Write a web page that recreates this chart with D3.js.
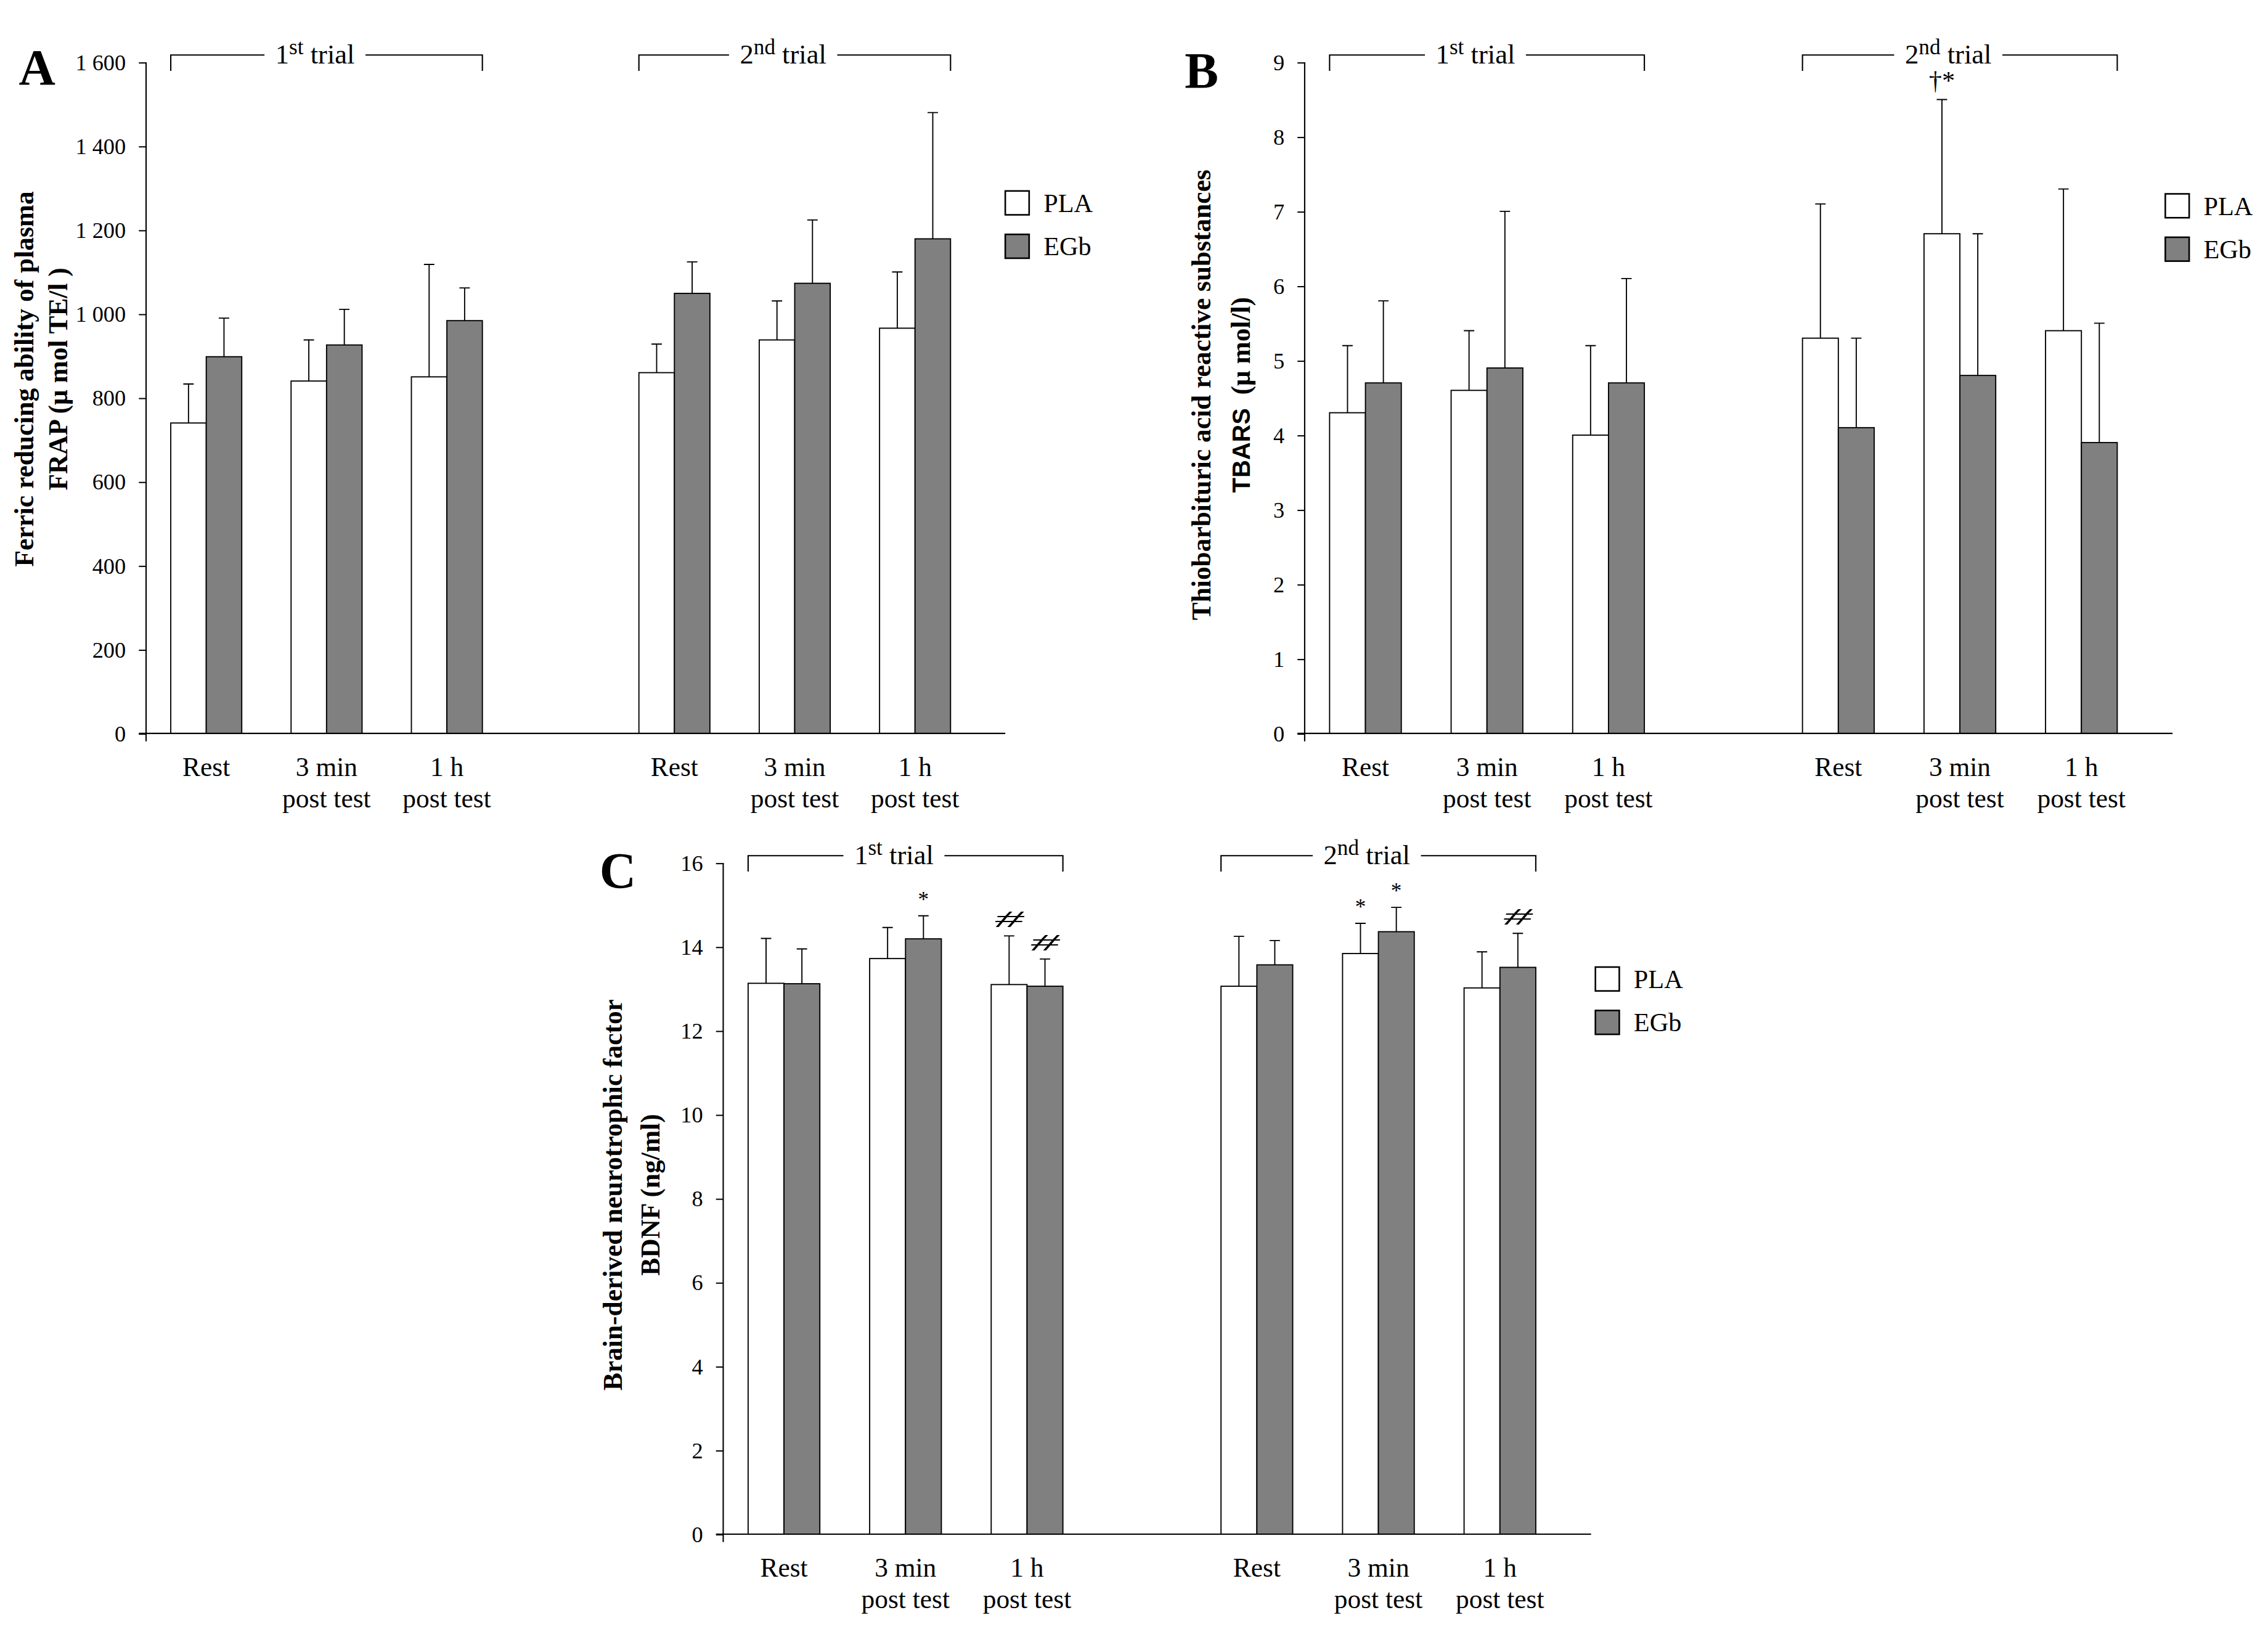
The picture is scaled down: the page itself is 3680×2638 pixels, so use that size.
<!DOCTYPE html>
<html>
<head>
<meta charset="utf-8">
<script src="https://cdn.jsdelivr.net/npm/d3@7"></script>
<style>
  html, body { margin: 0; padding: 0; background: #fff; }
</style>
</head>
<body>
<div id="chart"></div>
<script>
// --- Data ---
const trials = ['1st', '2nd'];
const timepoints = ['Rest', '3 min post test', '1 h post test'];
const timeLabels = [['Rest'], ['3 min', 'post test'], ['1 h', 'post test']];
const groups = ['PLA', 'EGb'];

// order: 1st trial Rest, 3 min, 1 h, 2nd trial Rest, 3 min, 1 h
const frapPLA = [740, 840, 850, 860, 938, 966];
const frapPLAsd = [93, 98, 268, 68, 93, 134];
const frapEGb = [898, 926, 984, 1049, 1073, 1179];
const frapEGbSd = [92, 85, 78, 75, 151, 301];
const frapTicks = [0, 200, 400, 600, 800, 1000, 1200, 1400, 1600];

const tbarsPLA = [4.3, 4.6, 4.0, 5.3, 6.7, 5.4];
const tbarsPLAsd = [0.9, 0.8, 1.2, 1.8, 1.8, 1.9];
const tbarsEGb = [4.7, 4.9, 4.7, 4.1, 4.8, 3.9];
const tbarsEGbSd = [1.1, 2.1, 1.4, 1.2, 1.9, 1.6];
const tbarsTicks = [0, 1, 2, 3, 4, 5, 6, 7, 8, 9];
const tbarsMarks = [{ group: 'PLA', slot: 4, text: '†*' }];

const bdnfPLA = [13.13, 13.72, 13.10, 13.06, 13.84, 13.02];
const bdnfPLAsd = [1.07, 0.74, 1.16, 1.19, 0.72, 0.86];
const bdnfEGb = [13.12, 14.19, 13.06, 13.57, 14.36, 13.51];
const bdnfEGbSd = [0.83, 0.55, 0.65, 0.58, 0.58, 0.81];
const bdnfTicks = [0, 2, 4, 6, 8, 10, 12, 14, 16];
const bdnfMarks = [
    { group: 'EGb', slot: 1, text: '*' },
    { group: 'PLA', slot: 2, text: '#' },
    { group: 'EGb', slot: 2, text: '#' },
    { group: 'PLA', slot: 4, text: '*' },
    { group: 'EGb', slot: 4, text: '*' },
    { group: 'EGb', slot: 5, text: '#' }
];

// --- Setup ---
const SERIF = '"Liberation Serif", "Times New Roman", serif';
const SANS = '"Liberation Sans", Arial, sans-serif';
const fills = { PLA: '#ffffff', EGb: '#808080' };
const spaceLocale = d3.formatLocale({ decimal: '.', thousands: ' ', grouping: [3], currency: ['', ''] });

const panels = [
    {
        letter: 'A', letterX: 13, letterY: 58.5,
        x0: 101, W: 594, yTop: 43, yBot: 507,
        domain: [0, 1600], ticks: frapTicks, fmt: spaceLocale.format(',d'),
        means: [frapPLA, frapEGb], sds: [frapPLAsd, frapEGbSd], marks: [],
        title: [['Ferric reducing ability of plasma'], ['FRAP (μ mol TE/l )']],
        titleX: [23, 46.5], titleY: 262,
        legendX: 695, legendY: 132
    },
    {
        letter: 'B', letterX: 819, letterY: 60.5,
        x0: 902, W: 600, yTop: 43, yBot: 507,
        domain: [0, 9], ticks: tbarsTicks, fmt: d3.format('d'),
        means: [tbarsPLA, tbarsEGb], sds: [tbarsPLAsd, tbarsEGbSd], marks: tbarsMarks,
        title: [['Thiobarbituric acid reactive substances'], ['TBARS', '  (μ mol/l)']],
        titleX: [837, 864], titleY: 273,
        legendX: 1497, legendY: 134
    },
    {
        letter: 'C', letterX: 414.5, letterY: 613.5,
        x0: 500, W: 600, yTop: 596.5, yBot: 1060.5,
        domain: [0, 16], ticks: bdnfTicks, fmt: d3.format('d'),
        means: [bdnfPLA, bdnfEGb], sds: [bdnfPLAsd, bdnfEGbSd], marks: bdnfMarks,
        title: [['Brain-derived neurotrophic factor'], ['BDNF (ng/ml)']],
        titleX: [430, 456], titleY: 826,
        legendX: 1103, legendY: 668.5
    }
];

const svg = d3.select('#chart')
    .append('svg')
    .attr('width', 3680)
    .attr('height', 2638)
    .attr('viewBox', '0 0 1568 1124');

svg.append('rect').attr('width', 1568).attr('height', 1124).attr('fill', '#fff');

panels.forEach(drawPanel);

function drawPanel(p) {
    const g = svg.append('g').attr('transform', `translate(${p.x0},0)`);

    const y = d3.scaleLinear().domain(p.domain).range([p.yBot, p.yTop]);
    const xTrial = d3.scaleBand().domain(trials).range([0, p.W * 0.965]).paddingInner(0.229);
    const xTime = d3.scaleBand().domain(timepoints).range([0, xTrial.bandwidth()])
        .paddingInner(0.41).paddingOuter(0.205);
    const xGroup = d3.scaleBand().domain(groups).range([0, xTime.bandwidth()]);

    const rows = [];
    trials.forEach((t, ti) => {
        timepoints.forEach((tp, k) => {
            groups.forEach((grp, gi) => {
                const slot = ti * 3 + k;
                rows.push({
                    trial: t, time: tp, group: grp, slot: slot,
                    value: p.means[gi][slot], sd: p.sds[gi][slot],
                    x: xTrial(t) + xTime(tp) + xGroup(grp)
                });
            });
        });
    });

    // bars
    g.selectAll('.bar')
        .data(rows)
        .enter()
        .append('rect')
        .attr('x', d => d.x)
        .attr('y', d => y(d.value))
        .attr('width', xGroup.bandwidth())
        .attr('height', d => y(0) - y(d.value))
        .attr('fill', d => fills[d.group])
        .attr('stroke', '#000')
        .attr('stroke-width', 0.8);

    // error bars (upper only)
    const cx = d => d.x + xGroup.bandwidth() / 2;
    g.selectAll('.err')
        .data(rows)
        .enter()
        .append('path')
        .attr('d', d => `M${cx(d)},${y(d.value)}V${y(d.value + d.sd)}M${cx(d) - 3.6},${y(d.value + d.sd)}H${cx(d) + 3.6}`)
        .attr('fill', 'none')
        .attr('stroke', '#000')
        .attr('stroke-width', 0.8);

    // significance marks
    p.marks.forEach(m => {
        const d = rows.find(r => r.group === m.group && r.slot === m.slot);
        const top = y(d.value + d.sd);
        const t = g.append('text')
            .attr('x', cx(d))
            .attr('text-anchor', 'middle')
            .attr('font-family', SERIF)
            .text(m.text);
        if (m.text === '#') {
            t.attr('y', top - 6).attr('font-size', 16).attr('font-style', 'italic')
                .attr('textLength', 20).attr('lengthAdjust', 'spacingAndGlyphs');
        } else if (m.text === '*') {
            t.attr('y', top - 6.4).attr('font-size', 15);
        } else {
            t.attr('y', top - 7).attr('font-size', 18);
        }
    });

    // y axis
    const yAxis = d3.axisLeft(y).tickValues(p.ticks).tickSize(5).tickPadding(9).tickFormat(p.fmt);
    const ya = g.append('g').call(yAxis);
    ya.select('.domain').remove();
    ya.selectAll('line').attr('stroke', '#000').attr('stroke-width', 0.85);
    ya.selectAll('text')
        .attr('font-family', SERIF)
        .attr('font-size', 15.5)
        .attr('fill', '#000');

    g.append('path')
        .attr('d', `M0,${p.yTop}V${p.yBot + 5.5}M-5,${p.yBot}H${p.W}`)
        .attr('fill', 'none')
        .attr('stroke', '#000')
        .attr('stroke-width', 0.9);

    // x labels
    trials.forEach(t => {
        timepoints.forEach((tp, k) => {
            const tx = g.append('text')
                .attr('x', xTrial(t) + xTime(tp) + xTime.bandwidth() / 2)
                .attr('y', p.yBot + 29.5)
                .attr('text-anchor', 'middle')
                .attr('font-family', SERIF)
                .attr('font-size', 18.5);
            timeLabels[k].forEach((line, li) => {
                tx.append('tspan')
                    .attr('x', xTrial(t) + xTime(tp) + xTime.bandwidth() / 2)
                    .attr('dy', li === 0 ? 0 : 21.5)
                    .text(line);
            });
        });
    });

    // trial brackets
    const sup = { '1st': ['1', 'st'], '2nd': ['2', 'nd'] };
    trials.forEach(t => {
        const x1 = xTrial(t) + xTime(timepoints[0]);
        const x2 = xTrial(t) + xTime(timepoints[2]) + xTime.bandwidth();
        const mid = (x1 + x2) / 2 - 8;
        const yb = p.yTop - 5;
        const lbl = g.append('text')
            .attr('x', mid)
            .attr('y', p.yTop + 1)
            .attr('text-anchor', 'middle')
            .attr('font-family', SERIF)
            .attr('font-size', 19);
        lbl.append('tspan').text(sup[t][0]);
        lbl.append('tspan').attr('font-size', 15).attr('dy', -6.5).text(sup[t][1]);
        lbl.append('tspan').attr('dy', 6.5).text(' trial');
        const half = lbl.node().getComputedTextLength() / 2 + 7.5;
        g.append('path')
            .attr('d', `M${x1},${p.yTop + 6}V${yb}H${mid - half}M${mid + half},${yb}H${x2}V${p.yTop + 6}`)
            .attr('fill', 'none')
            .attr('stroke', '#000')
            .attr('stroke-width', 0.9);
    });

    // y title (two lines, rotated)
    p.title.forEach((line, li) => {
        const tt = svg.append('text')
            .attr('transform', `translate(${p.titleX[li]},${p.titleY}) rotate(-90)`)
            .attr('text-anchor', 'middle')
            .attr('font-weight', 'bold')
            .attr('font-family', SERIF)
            .attr('font-size', 18.5);
        line.forEach((part, pi) => {
            tt.append('tspan')
                .attr('font-family', part === 'TBARS' ? SANS : SERIF)
                .attr('font-size', part === 'TBARS' ? 17 : 18.5)
                .attr('xml:space', 'preserve')
                .style('white-space', 'pre')
                .text(part);
        });
    });

    // panel letter
    svg.append('text')
        .attr('x', p.letterX)
        .attr('y', p.letterY)
        .attr('font-family', SERIF)
        .attr('font-weight', 'bold')
        .attr('font-size', 35)
        .text(p.letter);

    // legend
    groups.forEach((grp, gi) => {
        svg.append('rect')
            .attr('x', p.legendX)
            .attr('y', p.legendY + gi * 30)
            .attr('width', 16.5)
            .attr('height', 16.5)
            .attr('fill', fills[grp])
            .attr('stroke', '#000')
            .attr('stroke-width', 1.1);
        svg.append('text')
            .attr('x', p.legendX + 26.5)
            .attr('y', p.legendY + gi * 30 + 14.5)
            .attr('font-family', SERIF)
            .attr('font-size', 18)
            .text(grp);
    });
}
</script>
</body>
</html>
